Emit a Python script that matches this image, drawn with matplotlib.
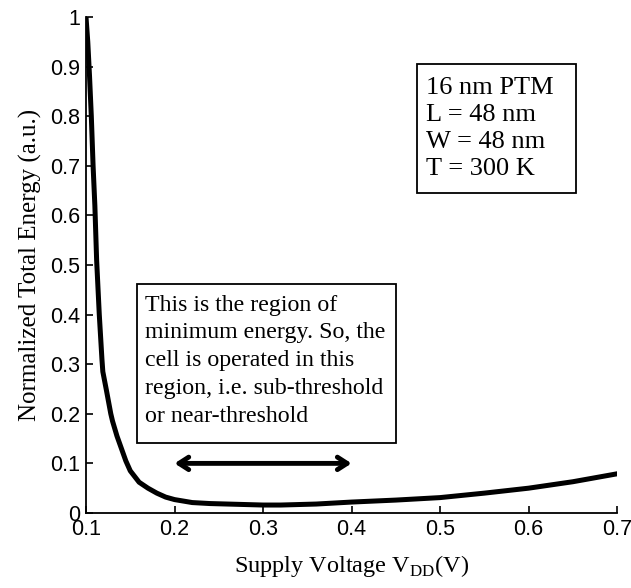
import matplotlib.pyplot as plt

# supply voltage (V) and normalized total energy
vdd = [0.100, 0.102, 0.104, 0.106, 0.108, 0.110, 0.112, 0.115, 0.118, 0.119,
       0.123, 0.128, 0.130, 0.135, 0.140, 0.145, 0.150, 0.160, 0.170, 0.180,
       0.190, 0.200, 0.220, 0.240, 0.260, 0.280, 0.300, 0.320, 0.340, 0.360,
       0.380, 0.400, 0.450, 0.500, 0.550, 0.600, 0.650, 0.700]
energy = [1.00, 0.95, 0.88, 0.80, 0.70, 0.62, 0.51, 0.40, 0.31, 0.285,
          0.248, 0.20, 0.185, 0.155, 0.13, 0.105, 0.085, 0.062, 0.050, 0.040,
          0.032, 0.027, 0.021, 0.019, 0.018, 0.017, 0.016, 0.016, 0.017, 0.018,
          0.020, 0.022, 0.026, 0.031, 0.040, 0.050, 0.063, 0.079]

xticks = [0.1, 0.2, 0.3, 0.4, 0.5, 0.6, 0.7]
yticks = [0, 0.1, 0.2, 0.3, 0.4, 0.5, 0.6, 0.7, 0.8, 0.9, 1]

params_txt = "16 nm PTM\nL = 48 nm\nW = 48 nm\nT = 300 K"
region_txt = ("This is the region of\nminimum energy. So, the\n"
              "cell is operated in this\nregion, i.e. sub-threshold\n"
              "or near-threshold")

plt.rcParams['mathtext.fontset'] = 'custom'
plt.rcParams['mathtext.rm'] = 'Liberation Serif'

fig = plt.figure(figsize=(6.31, 5.88), dpi=100)
ax = fig.add_axes([0.1363, 0.1276, 0.8417, 0.8434])

ax.plot(vdd, energy, color='black', lw=3.6)

ax.set_xlim(0.1, 0.7)
ax.set_ylim(0, 1)
ax.set_xticks(xticks)
ax.set_yticks(yticks)
ax.set_xticklabels([str(t) for t in xticks])
ax.set_yticklabels([str(t) for t in yticks])
ax.tick_params(direction='in', length=5, width=1.2, labelsize=15.5, pad=4)
for lab in ax.get_xticklabels() + ax.get_yticklabels():
    lab.set_family('Liberation Sans')
ax.spines['top'].set_visible(False)
ax.spines['right'].set_visible(False)
ax.spines['left'].set_linewidth(1.3)
ax.spines['bottom'].set_linewidth(1.3)

ax.set_xlabel(r'Supply Voltage V$_{\mathrm{DD}}$(V)', family='Liberation Serif',
              fontsize=17.5, labelpad=10)
ax.set_ylabel('Normalized Total Energy (a.u.)', family='Liberation Serif',
              fontsize=18, labelpad=6)

# framed annotations (frames in axes fraction)
def framed(x0, y0, x1, y1):
    ax.add_patch(plt.Rectangle((x0, y0), x1 - x0, y1 - y0, transform=ax.transAxes,
                               facecolor='white', edgecolor='black', lw=1.3,
                               zorder=3))

framed(0.623, 0.646, 0.923, 0.906)
ax.text(0.640, 0.880, params_txt, transform=ax.transAxes, family='Liberation Serif',
        fontsize=19, va='top', ha='left', linespacing=1.3, zorder=4)

framed(0.096, 0.141, 0.584, 0.462)
ax.text(0.111, 0.440, region_txt, transform=ax.transAxes, family='Liberation Serif',
        fontsize=17.2, va='top', ha='left', linespacing=1.42, zorder=4)

ax.annotate('', xy=(0.2, 0.1), xytext=(0.4, 0.1),
            arrowprops=dict(arrowstyle='<->,head_length=0.7,head_width=0.45',
                            lw=3.5, color='black', shrinkA=0, shrinkB=0))

fig.savefig('out.png', dpi=100)
